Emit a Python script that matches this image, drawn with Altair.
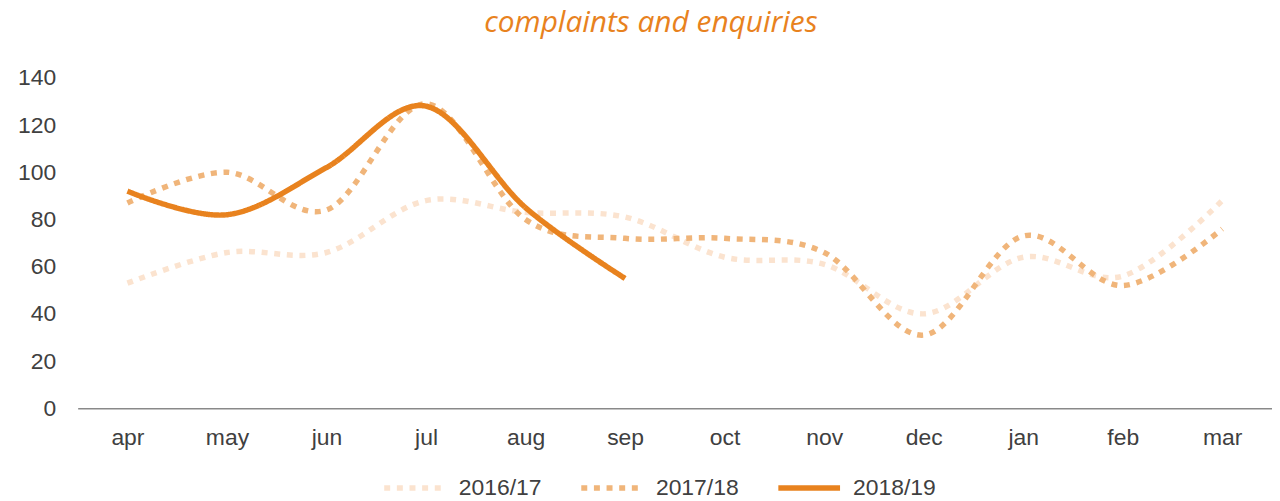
import altair as alt
import pandas as pd

months = ["apr", "may", "jun", "jul", "aug", "sep", "oct", "nov", "dec", "jan", "feb", "mar"]
series_names = ["2016/17", "2017/18", "2018/19"]
v2016 = [53, 66, 66, 88, 83, 81, 64, 61, 40, 64, 56, 88]
v2017 = [87, 100, 84, 129, 80, 72, 72, 66, 31, 73, 52, 76]
v2018 = [92, 82, 102, 128, 85, 55]

rows = []
for name, vals in zip(series_names, [v2016, v2017, v2018]):
    for i, v in enumerate(vals):
        rows.append({"month": months[i], "year": name, "value": v, "order": i})
df = pd.DataFrame(rows)

colors = ["#FBE3CF", "#F0B57A", "#E8821E"]
dashes = [[6, 6.7], [6, 6.7], [1, 0]]

legend_cfg = dict(title=None, orient="none", direction="horizontal",
                  legendX=305, legendY=378,
                  symbolType="stroke", symbolSize=3844, symbolStrokeWidth=5.5,
                  labelFontSize=23, labelColor="#404040",
                  labelFont="Liberation Sans", labelOffset=10,
                  columnPadding=28, labelLimit=300)

chart = alt.Chart(df).mark_line(
    interpolate="cardinal", strokeWidth=5.5, strokeCap="butt"
).encode(
    x=alt.X("month:N", sort=months, title=None,
            scale=alt.Scale(paddingInner=0, paddingOuter=0.5),
            axis=alt.Axis(labelAngle=0, ticks=False, domain=True, domainColor="#898989",
                          domainWidth=1.5, labelFontSize=23, labelColor="#404040",
                          labelFont="Liberation Sans", labelPadding=18, grid=False)),
    y=alt.Y("value:Q", title=None,
            scale=alt.Scale(domain=[0, 140], nice=False),
            axis=alt.Axis(values=list(range(0, 141, 20)), ticks=False, domain=False, grid=False,
                          labelFontSize=23, labelColor="#404040", labelFont="Liberation Sans",
                          labelPadding=22)),
    color=alt.Color("year:N", scale=alt.Scale(domain=series_names, range=colors),
                    legend=alt.Legend(**legend_cfg)),
    strokeDash=alt.StrokeDash("year:N", scale=alt.Scale(domain=series_names, range=dashes),
                              legend=alt.Legend(**legend_cfg)),
    order=alt.Order("order:Q"),
).properties(
    width=1200,
    height=332,
    title=alt.TitleParams("complaints and enquiries", font="Open Sans",
                          fontSize=30, fontWeight="normal", fontStyle="italic",
                          color="#E8821E",
                          anchor="middle", dx=-24, offset=29),
    autosize=alt.AutoSizeParams(type="none"),
    padding={"left": 70, "top": 69, "right": 0, "bottom": 92},
).configure_view(stroke=None)

chart.save("out.html", embed_options={"renderer": "svg", "actions": False})
